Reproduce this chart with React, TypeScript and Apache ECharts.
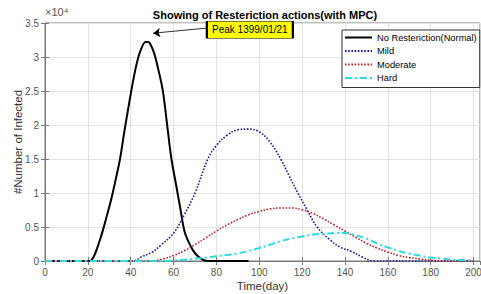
import React, { useEffect, useRef } from "react";
import * as echarts from "echarts";

// ---- data (values in persons) ----
const normalDays = [0, 5, 10, 15, 20, 21, 23, 25, 27, 29, 31, 33, 35, 37, 39, 41, 43, 45, 47, 48, 49, 51, 53, 55, 57, 59, 61, 63, 65, 67, 69, 71, 73, 75, 77, 80, 85, 90, 95];
const normalVals = [0, 0, 0, 0, 0, 0, 800, 2500, 4500, 6800, 9200, 12000, 15000, 19000, 22700, 26300, 29300, 31300, 32200, 32200, 32000, 30500, 28000, 25000, 20000, 15000, 11500, 8000, 4500, 2800, 1600, 800, 300, 50, 0, 0, 0, 0, 0];

const mildDays = [0, 41, 45, 50, 54, 60, 65, 70, 76, 80, 85, 90, 95, 100, 105, 110, 114, 118, 122, 127, 133, 138, 143, 148, 153, 160, 170, 180, 190, 200];
const mildVals = [0, 0, 600, 1300, 2300, 4100, 6800, 10000, 15000, 17000, 18500, 19300, 19400, 19000, 17500, 15000, 12500, 10000, 7700, 5000, 3100, 2000, 1400, 600, 0, 0, 0, 0, 0, 0];

const moderateDays = [0, 49, 55, 60, 65, 70, 75, 80, 85, 90, 95, 100, 105, 110, 115, 120, 125, 130, 135, 140, 145, 150, 155, 160, 165, 170, 175, 180, 185, 190, 200];
const moderateVals = [0, 0, 300, 800, 1500, 2400, 3400, 4400, 5300, 6100, 6800, 7300, 7650, 7800, 7800, 7550, 7000, 6200, 5300, 4400, 3500, 2600, 1900, 1300, 800, 500, 300, 100, 0, 0, 0];

const hardDays = [0, 55, 60, 65, 70, 75, 80, 85, 90, 95, 100, 105, 110, 115, 120, 125, 130, 135, 140, 145, 150, 155, 160, 165, 170, 175, 180, 185, 190, 195, 200];
const hardVals = [0, 0, 100, 200, 350, 500, 700, 900, 1100, 1500, 1900, 2400, 2900, 3300, 3600, 3900, 4000, 4100, 4100, 3800, 3300, 2600, 2000, 1500, 1100, 800, 500, 350, 200, 150, 100];

const seriesNames = ["No Resteriction(Normal)", "Mild", "Moderate", "Hard"];
const yTicks = [0, 5000, 10000, 15000, 20000, 25000, 30000, 35000];

// annotation (data coordinates)
const peakLabel = "Peak 1399/01/21";
const peakBoxAt = [95.6, 34000];
const arrowFrom = [75.4, 34250];
const arrowTo = [50.5, 33500];

const zip = (xs: number[], ys: number[]) => xs.map((x, i) => [x, ys[i]]);

const FONT = "Liberation Sans, Arial, sans-serif";

export default function App() {
  const ref = useRef<HTMLDivElement>(null);
  useEffect(() => {
    if (!ref.current) return;
    const chart = echarts.init(ref.current, null, { renderer: "svg" });
    const axisCommon = {
      type: "value" as const,
      axisLine: { show: true, lineStyle: { color: "#7a7a7a", width: 1 } },
      axisTick: { show: true, inside: true, length: 4, lineStyle: { color: "#7a7a7a" } },
    };
    chart.setOption({
      animation: false,
      backgroundColor: "#ffffff",
      textStyle: { fontFamily: FONT },
      title: {
        text: "Showing of Resteriction actions(with MPC)",
        left: 260,
        textAlign: "center",
        top: 4,
        textStyle: { fontFamily: FONT, fontSize: 11, fontWeight: "bold", color: "#000" },
      },
      grid: {
        left: 45,
        right: 1,
        top: 23,
        bottom: 33,
        outerBoundsMode: "none",
        containLabel: false,
        show: true,
        borderColor: "#7a7a7a",
        borderWidth: 1,
      },
      legend: {
        data: seriesNames,
        orient: "vertical",
        left: 342,
        top: 30,
        padding: [3, 3, 5, 2],
        itemWidth: 27,
        itemHeight: 10,
        itemGap: 4.5,
        backgroundColor: "#ffffff",
        borderColor: "#333",
        borderWidth: 1,
        itemStyle: { opacity: 0 },
        textStyle: { fontFamily: FONT, fontSize: 9.3, color: "#000" },
      },
      xAxis: [
        {
          ...axisCommon,
          min: 0,
          max: 203,
          interval: 20,
          name: "Time(day)",
          nameLocation: "middle",
          nameGap: 19,
          nameMoveOverlap: false,
          nameTextStyle: { fontFamily: FONT, fontSize: 11.5, color: "#333" },
          axisLabel: { fontFamily: FONT, fontSize: 10, color: "#555", margin: 6, showMaxLabel: false },
          splitLine: { show: true, lineStyle: { color: "#e3e3e3", width: 1 } },
        },
        {
          ...axisCommon,
          position: "top",
          min: 0,
          max: 203,
          interval: 20,
          axisLabel: { show: false },
          splitLine: { show: false },
        },
      ],
      yAxis: [
        {
          ...axisCommon,
          min: 0,
          max: 35000,
          interval: 5000,
          name: "#Number of Infected",
          nameLocation: "middle",
          nameGap: 21,
          nameMoveOverlap: false,
          nameTextStyle: { fontFamily: FONT, fontSize: 11.5, color: "#333" },
          axisLabel: {
            fontFamily: FONT,
            fontSize: 10,
            color: "#555",
            margin: 6,
            formatter: (v: number) => (yTicks.includes(v) ? String(v / 10000) : ""),
          },
          splitLine: { show: true, lineStyle: { color: "#e3e3e3", width: 1 } },
        },
        {
          ...axisCommon,
          position: "right",
          min: 0,
          max: 35000,
          interval: 5000,
          axisLabel: { show: false },
          splitLine: { show: false },
        },
      ],
      graphic: [
        {
          type: "text",
          left: 45,
          top: 6,
          style: { text: "×10⁴", font: `11px ${FONT}`, fill: "#555" },
        },
      ],
      series: [
        {
          name: seriesNames[0],
          type: "line",
          data: zip(normalDays, normalVals),
          smooth: 0.4,
          symbol: "none",
          z: 3,
          lineStyle: { color: "#000000", width: 2 },
          itemStyle: { color: "#000000" },
          markLine: {
            silent: true,
            symbol: ["none", "arrow"],
            symbolSize: 7,
            label: { show: false },
            lineStyle: { color: "#000", width: 0.8, type: "solid" },
            data: [[{ coord: arrowFrom }, { coord: arrowTo }]],
          },
          markPoint: {
            silent: true,
            data: [
              {
                coord: peakBoxAt,
                symbol: "rect",
                symbolSize: [86, 17],
                itemStyle: { color: "#ffff00", borderColor: "#000", borderWidth: 1 },
                label: {
                  show: true,
                  position: "inside",
                  formatter: peakLabel,
                  color: "#000",
                  fontFamily: FONT,
                  fontSize: 10,
                },
              },
            ],
          },
        },
        {
          name: seriesNames[1],
          type: "line",
          data: zip(mildDays, mildVals),
          smooth: 0.4,
          symbol: "none",
          z: 4,
          lineStyle: { color: "#1a1a9a", width: 1.6, type: [1.6, 1.6] },
          itemStyle: { color: "#1a1a9a" },
        },
        {
          name: seriesNames[2],
          type: "line",
          data: zip(moderateDays, moderateVals),
          smooth: 0.4,
          symbol: "none",
          z: 5,
          lineStyle: { color: "#b8262b", width: 1.6, type: [1.6, 1.6] },
          itemStyle: { color: "#b8262b" },
        },
        {
          name: seriesNames[3],
          type: "line",
          data: zip(hardDays, hardVals),
          smooth: 0.4,
          symbol: "none",
          z: 6,
          lineStyle: { color: "#2fdcdc", width: 2, type: [7, 3, 2, 3] },
          itemStyle: { color: "#2fdcdc" },
        },
      ],
    });
    return () => chart.dispose();
  }, []);
  return <div ref={ref} style={{ width: 481, height: 294, position: "absolute", left: 0, top: 0 }} />;
}
